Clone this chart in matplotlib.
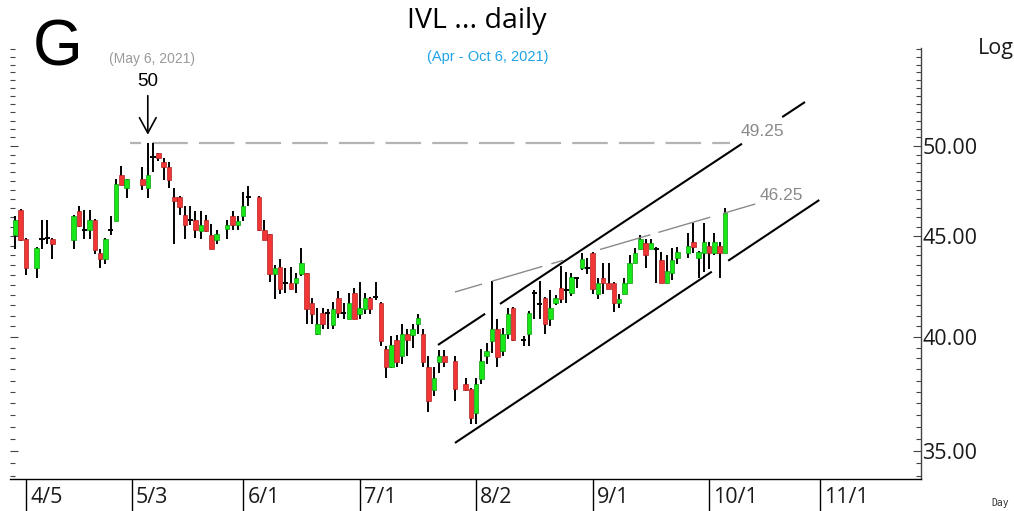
import numpy as np
import pandas as pd
import matplotlib
matplotlib.use('Agg')
import matplotlib.pyplot as plt
from matplotlib.ticker import FixedLocator, NullFormatter, FuncFormatter

SEGOE = ['Open Sans', 'DejaVu Sans']
ARIAL = ['Liberation Sans', 'DejaVu Sans']
plt.rcParams['font.family'] = SEGOE

# trading days: weekdays from START, minus SET holidays (gaps in the chart)
START = '2021-04-01'
END = '2021-10-06'
HOLIDAYS = ['2021-04-06', '2021-04-13', '2021-04-14', '2021-04-15', '2021-05-03',
            '2021-05-04', '2021-05-26', '2021-06-03', '2021-07-26', '2021-07-28',
            '2021-08-12', '2021-09-24']

OPEN = [45.07, 46.37, 44.86, 43.37, 44.88, 44.84, 44.86,
        44.81, 46.32, 45.36, 45.30, 45.87, 44.12, 43.81, 45.36, 45.82, 48.34, 47.60,
        48.10, 47.60, 49.40, 49.58, 49.09, 48.80, 47.13, 47.13, 46.14, 45.89, 45.87,
        45.28, 45.87, 45.07, 44.81,
        45.36, 46.09, 45.57, 46.09, 47.15,
        47.13, 45.34, 45.11, 43.06, 43.39, 42.63, 42.60, 42.60, 43.06, 43.10, 41.62,
        40.11, 41.14, 41.16, 40.55, 41.86, 41.16, 40.85, 42.10, 41.10, 41.33, 41.86,
        41.86, 41.62, 39.42, 38.59, 39.85, 39.11, 40.11, 40.08, 40.58, 40.15, 38.61,
        37.59, 38.84, 39.11,
        38.88,
        37.84, 37.65, 36.60, 38.06, 39.11, 39.80, 40.38, 39.34, 40.11, 41.38,
        39.88, 40.11, 42.12, 41.60, 41.86, 40.82, 41.62, 42.35, 42.30, 42.10, 42.85,
        43.37, 43.39, 44.13, 42.07, 42.87, 42.62, 42.62, 41.59, 42.07, 42.62, 43.63,
        44.34, 44.65, 44.34, 44.36, 43.78, 42.62, 43.12, 43.88,
        44.13, 44.70, 43.88, 44.13, 44.50, 44.13, 44.50, 44.13]
HIGH = [46.09, 46.45, 44.90, 44.45, 45.87, 45.87, 44.90,
        46.12, 46.63, 46.37, 46.37, 45.90, 44.34, 44.90, 46.09, 48.10, 48.85, 48.12,
        48.80, 50.15, 50.15, 49.62, 49.30, 49.09, 47.60, 47.15, 46.59, 46.59, 46.36,
        46.36, 46.10, 45.64, 45.34,
        45.83, 46.36, 46.05, 47.37, 47.69,
        47.15, 45.87, 45.13, 43.52, 43.83, 43.35, 43.39, 43.10, 44.38, 43.12, 41.86,
        41.38, 41.38, 41.33, 41.65, 42.19, 41.62, 42.10, 42.35, 42.63, 42.10, 41.90,
        42.63, 41.65, 39.57, 40.03, 40.10, 40.58, 40.35, 40.58, 41.10, 40.35, 39.11,
        38.59, 39.37, 39.37,
        39.11,
        38.13, 37.67, 38.13, 39.42, 39.70, 42.69, 40.82, 40.43, 41.35, 41.40,
        40.03, 41.24, 42.27, 42.69, 41.90, 42.27, 42.00, 43.44, 43.17, 43.10, 42.90,
        44.13, 43.88, 44.19, 42.87, 43.63, 43.63, 42.65, 42.07, 42.87, 44.03, 44.39,
        45.07, 44.86, 44.86, 44.44, 44.19, 44.03, 44.39, 44.44,
        45.18, 45.70, 44.20, 45.70, 44.70, 45.18, 44.70, 46.52]
LOW = [44.34, 44.75, 43.02, 42.87, 44.34, 44.60, 43.83,
       44.34, 45.50, 44.86, 44.86, 44.09, 43.37, 43.57, 45.07, 45.80, 47.75, 47.07,
       47.50, 47.04, 48.53, 49.13, 48.06, 47.60, 44.60, 46.14, 44.86, 45.60, 44.90,
       44.86, 45.20, 44.30, 44.58,
       44.86, 45.34, 45.34, 45.82, 46.59,
       45.28, 44.78, 42.63, 41.83, 42.07, 42.10, 42.28, 42.10, 42.94, 40.58, 40.58,
       40.10, 40.35, 40.38, 40.35, 40.90, 40.85, 40.83, 40.83, 40.85, 41.10, 41.10,
       41.78, 39.57, 38.10, 38.55, 38.59, 38.73, 39.11, 39.50, 40.11, 38.59, 36.61,
       37.32, 38.33, 38.59,
       37.10,
       37.55, 36.12, 36.12, 37.84, 38.73, 39.27, 38.59, 39.11, 39.88, 39.82,
       39.57, 39.57, 40.82, 40.82, 40.11, 40.50, 41.50, 41.62, 41.62, 41.97, 42.35,
       43.27, 43.06, 42.07, 41.83, 42.07, 42.30, 41.20, 41.35, 42.05, 42.60, 43.60,
       44.30, 43.37, 44.30, 42.62, 42.60, 42.60, 42.77, 43.53,
       43.88, 44.13, 42.87, 43.17, 43.32, 44.03, 42.87, 44.10]
CLOSE = [45.87, 44.81, 43.37, 44.39, 44.86, 44.88, 44.58,
         46.09, 45.56, 45.32, 45.87, 44.29, 43.81, 44.86, 45.32, 47.83, 47.78, 48.10,
         47.78, 48.35, 49.35, 49.29, 48.78, 48.06, 46.86, 46.53, 45.57, 45.85, 45.34,
         45.60, 45.28, 44.34, 45.10,
         45.60, 45.57, 45.82, 46.63, 47.10,
         45.30, 44.81, 43.06, 43.35, 42.30, 42.58, 42.30, 42.85, 43.61, 41.30, 41.10,
         40.61, 40.58, 41.12, 41.33, 41.14, 41.12, 41.62, 40.85, 41.38, 41.86, 41.33,
         41.90, 39.80, 38.59, 39.62, 38.85, 40.15, 39.85, 40.35, 40.87, 38.84, 37.10,
         38.13, 39.11, 38.84,
         37.62,
         37.59, 36.36, 37.84, 38.88, 39.34, 40.38, 39.08, 40.11, 41.10, 39.85,
         39.86, 41.14, 42.10, 41.58, 40.58, 41.38, 41.86, 41.82, 42.25, 42.89, 42.87,
         43.83, 43.37, 42.32, 42.62, 42.62, 42.32, 41.59, 41.83, 42.62, 43.63, 44.13,
         44.86, 44.03, 44.65, 44.34, 42.62, 43.22, 43.78, 44.19,
         44.50, 44.44, 44.19, 44.70, 44.13, 44.70, 44.13, 46.25]

TICK_DATES = ['2021-04-05', '2021-05-03', '2021-06-01', '2021-07-01',
              '2021-08-02', '2021-09-01', '2021-10-01', '2021-11-01']
TICK_LABELS = ['4/5', '5/3', '6/1', '7/1', '8/2', '9/1', '10/1', '11/1']

# drawn lines, anchors as (weekday index, price)
RESIST = 50.15
UPPER_X, UPPER_P = [79.8, 149.1], [39.62, 52.64]
LOWER_X, LOWER_P = [83.0, 151.8], [35.33, 46.94]
TOP_X, TOP_P = [83.0, 139.7], [42.15, 46.72]
UPPER_SEG = [(79.8, 88.7), (91.5, 137.2), (144.8, 149.1)]
LOWER_SEG = [(83.0, 131.5), (134.6, 151.8)]
TOP_SEG = [(83.0, 88.1), (90.0, 99.5), (101.2, 103.4), (110.4, 119.9),
           (121.4, 131.2), (133.6, 139.7)]

days = pd.bdate_range(START, END)
days = days[~days.isin(pd.to_datetime(HOLIDAYS))]
x = np.busday_count(np.datetime64(START), days.values.astype('datetime64[D]')).astype(float)
o, h, l, c = (np.array(v) for v in (OPEN, HIGH, LOW, CLOSE))
tick_x = np.busday_count(np.datetime64(START), np.array(TICK_DATES, dtype='datetime64[D]'))


def trend(ax, ax_x, ax_p, segs, **kw):
    lp = np.log(ax_p)
    slope = (lp[1] - lp[0]) / (ax_x[1] - ax_x[0])
    for a, b in segs:
        xs = np.array([a, b])
        ax.plot(xs, np.exp(lp[0] + slope * (xs - ax_x[0])), solid_capstyle='butt', **kw)


fig = plt.figure(figsize=(10.14, 5.11), dpi=100)
ax = fig.add_axes([0.00986, 0.0626, 0.8984, 0.8434])
ax.set_yscale('log')
ax.set_xlim(-1.02, 171.0)
ax.set_ylim(33.87, 56.07)

# candles
ax.vlines(x, l, h, color='black', lw=1.4, zorder=2)
doji = np.abs(c - o) < 0.06
up = c >= o
body_col = np.where(up, '#18e818', '#f23636')
edge_col = np.where(up, '#0c9a0c', '#b02020')
m = ~doji
ax.bar(x[m], np.abs(c - o)[m], bottom=np.minimum(o, c)[m], width=0.85,
       color=body_col[m], edgecolor=edge_col[m], linewidth=0.5, zorder=3)
ax.hlines(c[doji], x[doji] - 0.5, x[doji] + 0.5, color='black', lw=1.4, zorder=4)

# lines
ax.hlines(RESIST, 21.6, 134.9, color='#b4b4b4', lw=1.6, linestyles=(11, (16, 5)), zorder=1)
trend(ax, UPPER_X, UPPER_P, UPPER_SEG, color='black', lw=1.5, zorder=5)
trend(ax, LOWER_X, LOWER_P, LOWER_SEG, color='black', lw=1.5, zorder=5)
trend(ax, TOP_X, TOP_P, TOP_SEG, color='#8a8a8a', lw=1.0, zorder=5)

ax.text(137.0, 50.83, '49.25', color='#8a8a8a', fontsize=12.5, family=ARIAL,
        ha='left', va='center')
ax.text(140.6, 47.16, '46.25', color='#8a8a8a', fontsize=12.5, family=ARIAL,
        ha='left', va='center')

# May 6 peak annotation
xp = x[list(days).index(pd.Timestamp('2021-05-06'))]
ax.annotate('', xy=(xp, 50.5), xytext=(xp, 53.2),
            arrowprops=dict(arrowstyle='->,head_length=0.55,head_width=0.3',
                            color='black', lw=1.2, mutation_scale=20))
ax.text(xp, 53.9, '50', fontsize=13.5, family=ARIAL, ha='center', va='center')
ax.text(xp + 0.8, 55.36, '(May 6, 2021)', fontsize=10, family=ARIAL, color='#9a9a9a',
        ha='center', va='center')

# axes styling
for s in ('top', 'left'):
    ax.spines[s].set_visible(False)
ax.spines['bottom'].set_linewidth(1.0)
ax.spines['right'].set_linewidth(1.0)
ax.spines['right'].set_color('#444444')

ax.yaxis.tick_right()
ax.yaxis.set_major_locator(FixedLocator([35, 40, 45, 50]))
ax.yaxis.set_minor_locator(FixedLocator(np.arange(34, 56.01, 0.5)))
ax.yaxis.set_major_formatter(FuncFormatter(lambda v, p: f'{v:.2f}'))
ax.yaxis.set_minor_formatter(NullFormatter())
ax.tick_params(axis='y', which='both', direction='in', left=True, right=True,
               labelleft=False, labelright=True, color='#444444', width=0.8)
ax.tick_params(axis='y', which='major', length=6, pad=1, labelsize=15.5,
               labelcolor='#1a1a1a')
ax.tick_params(axis='y', which='minor', length=3.5)

ax.set_xticks(tick_x)
ax.set_xticklabels([])
ax.tick_params(axis='x', which='major', direction='out', length=23, width=1.0, color='black')
ax.xaxis.set_minor_locator(FixedLocator([]))
for t, lab in zip(tick_x, TICK_LABELS):
    ax.annotate(lab, xy=(t, 0), xycoords=ax.get_xaxis_transform(), xytext=(3, -17.5),
                textcoords='offset points', ha='left', va='baseline', fontsize=15.5,
                color='#1a1a1a', annotation_clip=False)

# titles
fig.text(0.057, 0.905, 'G', fontsize=46, family=ARIAL, ha='center', va='center')
fig.text(0.47, 0.958, 'IVL ... daily', fontsize=20.5, ha='center', va='center')
fig.text(0.481, 0.888, '(Apr - Oct 6, 2021)', fontsize=10.5, family=ARIAL,
         color='#1fa3e6', ha='center', va='center')
fig.text(0.982, 0.906, 'Log', fontsize=15.5, ha='center', va='center', color='#1a1a1a')
fig.text(0.986, 0.016, 'Day', fontsize=7, family=['DejaVu Sans Mono'], ha='center',
         va='center', color='#333333')

fig.savefig('out.png', dpi=100)
